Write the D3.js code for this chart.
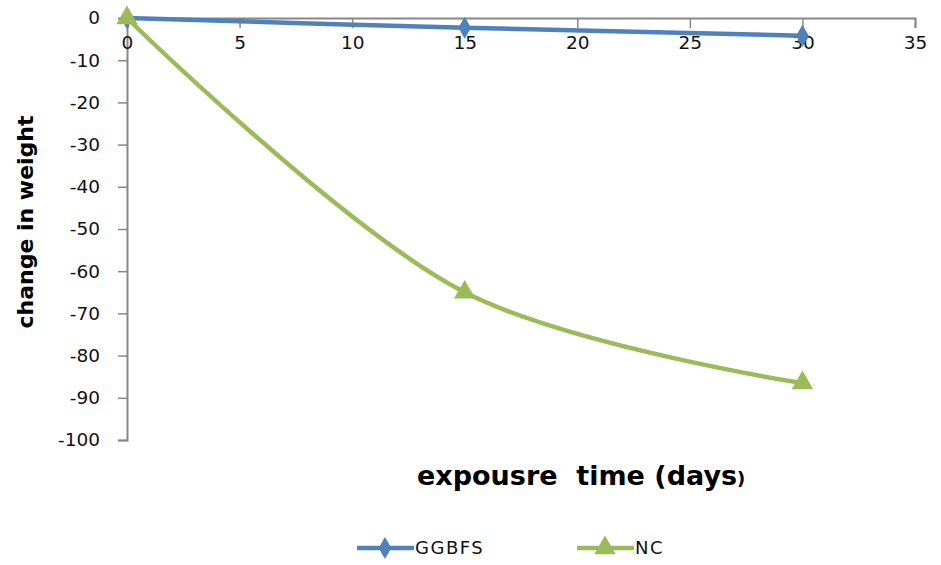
<!DOCTYPE html>
<html>
<head>
<meta charset="utf-8">
<script src="https://cdn.jsdelivr.net/npm/d3@7"></script>
<style>
  body { margin: 0; background: #fff; }
  svg { display: block; font-family: "DejaVu Sans", "Open Sans", sans-serif; }
</style>
</head>
<body>
<svg class="chart_svg" width="941" height="565"></svg>
<script>
/* chart data */
let days = [0, 15, 30];
let ggbfs = [0, -2.3, -4.2];
let nc = [0, -65, -86.5];
let x_ticks = [0, 5, 10, 15, 20, 25, 30, 35];
let y_ticks = [0, -10, -20, -30, -40, -50, -60, -70, -80, -90, -100];
let series_names = ["GGBFS", "NC"];
let series_colors = ["#4F81BD", "#9BBB59"];

let svg = d3.select("svg.chart_svg");

let x = d3.scaleLinear().domain([0, 35]).range([127, 915]);
let y = d3.scaleLinear().domain([0, -100]).range([18, 440]);

/* y axis, plain hyphen for the minus sign like the original */
let y_axis = svg.append("g")
    .attr("transform", "translate(" + x(0) + ",0)")
    .call(d3.axisLeft(y).tickValues(y_ticks).tickSize(9).tickPadding(18)
        .tickFormat(function(d){ return String(d); }));

/* x axis sits at value 0, ticks point down */
let x_axis = svg.append("g")
    .attr("transform", "translate(0," + y(0) + ")")
    .call(d3.axisBottom(x).tickValues(x_ticks).tickSize(10).tickPadding(15));

[y_axis, x_axis].forEach(function(a){
    a.select(".domain").attr("stroke", "#888").attr("stroke-width", 2);
    a.selectAll(".tick line").attr("stroke", "#888").attr("stroke-width", 1.5);
    a.selectAll(".tick text").attr("fill", "#111").style("font-family", "DejaVu Sans").style("font-size", "18.5px");
});
x_axis.selectAll(".tick text").attr("dy", "0.3em");

let line = d3.line()
    .x(function(d){ return x(d[0]); })
    .y(function(d){ return y(d[1]); })
    .curve(d3.curveCatmullRom.alpha(0.5));

let diamond = d3.symbol().type(d3.symbolDiamond).size(140);
let triangle = d3.symbol().type(d3.symbolTriangle).size(200);

let series = [
    {name: series_names[0], color: series_colors[0], values: ggbfs, marker: diamond},
    {name: series_names[1], color: series_colors[1], values: nc, marker: triangle}
];

series.forEach(function(s){
    let pts = days.map(function(d, i){ return [d, s.values[i]]; });
    svg.append("path")
        .datum(pts)
        .attr("fill", "none")
        .attr("stroke", s.color)
        .attr("stroke-width", 4.5)
        .attr("d", line);
    svg.selectAll(null)
        .data(pts)
        .enter()
        .append("path")
        .attr("d", s.marker)
        .attr("fill", s.color)
        .attr("transform", function(d){ return "translate(" + x(d[0]) + "," + y(d[1]) + ")"; });
});

/* axis titles */
svg.append("text")
    .attr("transform", "translate(33,222) rotate(-90)")
    .attr("text-anchor", "middle")
    .style("font-size", "22px")
    .style("font-weight", "bold")
    .attr("fill", "#000")
    .text("change in weight");

let xt = svg.append("text")
    .attr("x", 417)
    .attr("y", 485)
    .style("font-size", "27px")
    .style("font-weight", "bold")
    .attr("fill", "#000")
    .attr("xml:space", "preserve");
xt.append("tspan").text("expousre  time (days");
xt.append("tspan").style("font-size", "18px").text(")");

/* legend */
let legend_pos = [357, 577];
series.forEach(function(s, i){
    let g = svg.append("g").attr("transform", "translate(" + legend_pos[i] + ",548)");
    g.append("line")
        .attr("x1", 0).attr("x2", 57)
        .attr("stroke", s.color).attr("stroke-width", 4.5);
    g.append("path")
        .attr("d", s.marker)
        .attr("fill", s.color)
        .attr("transform", "translate(28,0)");
    g.append("text")
        .attr("x", 58)
        .attr("dy", "0.36em")
        .style("font-size", "18px")
        .style("letter-spacing", "1.5px")
        .attr("fill", "#111")
        .text(s.name);
});
</script>
</body>
</html>
